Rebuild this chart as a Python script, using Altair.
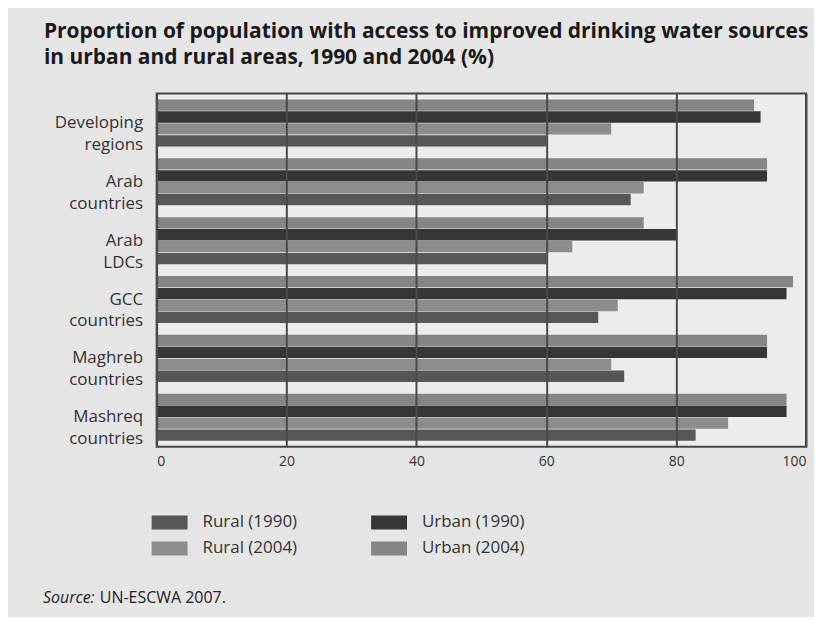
import altair as alt
import pandas as pd

categories = ["Developing regions", "Arab countries", "Arab LDCs",
              "GCC countries", "Maghreb countries", "Mashreq countries"]
series_names = ["Urban (2004)", "Urban (1990)", "Rural (2004)", "Rural (1990)"]
legend_order = ["Rural (1990)", "Rural (2004)", "Urban (1990)", "Urban (2004)"]
legend_colors = ["#575757", "#8c8c8c", "#363636", "#858585"]

urban_2004 = [92, 94, 75, 98, 94, 97]
urban_1990 = [93, 94, 80, 97, 94, 97]
rural_2004 = [70, 75, 64, 71, 70, 88]
rural_1990 = [60, 73, 60, 68, 72, 83]
tick_values = [0, 20, 40, 60, 80, 100]

rows = []
for i, c in enumerate(categories):
    for name, vals in zip(series_names, [urban_2004, urban_1990, rural_2004, rural_1990]):
        rows.append({"region": c, "series": name, "value": vals[i]})
df = pd.DataFrame(rows)

FONT = "Open Sans"

bars = alt.Chart(df).mark_bar().encode(
    y=alt.Y("region:N", sort=categories,
            scale=alt.Scale(paddingInner=0.2, paddingOuter=0.1),
            axis=alt.Axis(title=None, labelExpr="split(datum.label, ' ')",
                          ticks=False, domain=False, labelPadding=14,
                          labelFontSize=17, labelFont=FONT, labelColor="#333333",
                          labelLineHeight=22, labelBaseline="middle")),
    yOffset=alt.YOffset("series:N", sort=series_names,
                        scale=alt.Scale(paddingInner=0.05)),
    x=alt.X("value:Q", scale=alt.Scale(domain=[0, 100], nice=False),
            axis=alt.Axis(title=None, values=tick_values, grid=True, zindex=1,
                          gridColor="#4a4a4a", gridWidth=2, ticks=False,
                          domain=False, labelFontSize=14, labelFont=FONT,
                          labelColor="#333333", labelPadding=8)),
    color=alt.Color("series:N",
                    scale=alt.Scale(domain=legend_order, range=legend_colors),
                    legend=alt.Legend(title=None, orient="none", legendX=-5,
                                      legendY=412, columns=2, columnPadding=74,
                                      rowPadding=-5,
                                      symbolType="M-1,-0.39H1V0.39H-1Z",
                                      symbolSize=1296, symbolOpacity=1,
                                      symbolStrokeWidth=0,
                                      labelFontSize=17, labelFont=FONT,
                                      labelColor="#333333", labelOffset=15)),
)

src1 = alt.Chart(pd.DataFrame({"t": ["Source:"]})).mark_text(
    align="left", baseline="middle", fontSize=16, font=FONT,
    fontStyle="italic", color="#222222"
).encode(text="t:N", x=alt.value(-114), y=alt.value(506))

src2 = alt.Chart(pd.DataFrame({"t": ["UN-ESCWA 2007."]})).mark_text(
    align="left", baseline="middle", fontSize=16, font=FONT, color="#222222"
).encode(text="t:N", x=alt.value(-57), y=alt.value(506))

chart = alt.layer(bars, src1, src2).properties(
    width=651, height=354,
    autosize=alt.AutoSizeParams(type="none"),
    padding={"left": 149, "top": 85, "right": 8, "bottom": 170},
    background="#e5e5e5",
    title=alt.TitleParams(
        text=["Proportion of population with access to improved drinking water sources",
              "in urban and rural areas, 1990 and 2004 (%)"],
        anchor="start", frame="group", dx=-113, offset=26,
        font=FONT, fontSize=21, fontWeight="bold", color="#1a1a1a",
        lineHeight=26),
).configure_view(fill="#ececec", stroke="#444444", strokeWidth=2)

chart.save("out.html", embed_options={"renderer": "svg", "actions": False})
